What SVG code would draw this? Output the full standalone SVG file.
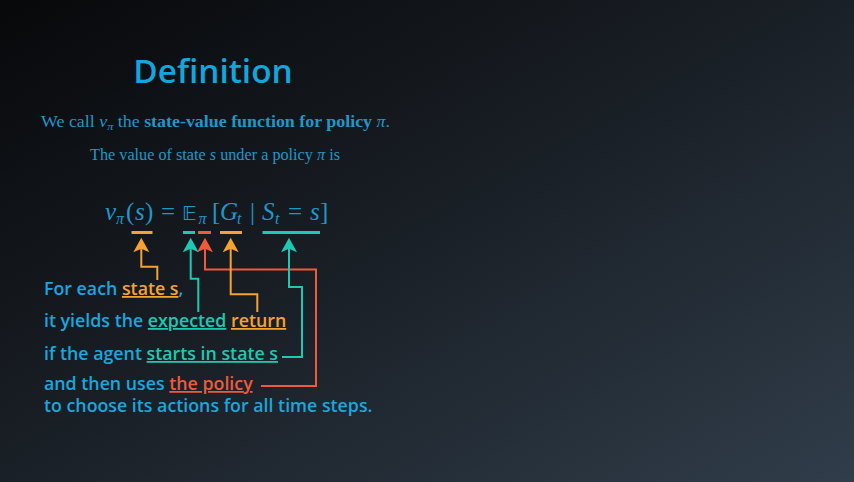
<svg xmlns="http://www.w3.org/2000/svg" width="854" height="482" viewBox="0 0 854 482">
  <defs>
    <linearGradient id="bg" x1="0" y1="0" x2="1" y2="1">
      <stop offset="0" stop-color="#07080a"/>
      <stop offset="0.5" stop-color="#1a2027"/>
      <stop offset="1" stop-color="#303d4a"/>
    </linearGradient>
    <!-- notched arrowhead, tip at the origin pointing up -->
    <path id="head" d="M0,0 L8,14.5 L0,11 L-8,14.5 Z"/>
    <style>
      .title { font-family: "Open Sans", "Noto Sans", sans-serif; font-weight: 600; font-size: 33.3px; fill: #13a6de; }
      .tex { font-family: "Liberation Serif", "DejaVu Serif", serif; fill: #1f98c8; }
      .it { font-style: italic; }
      .bf { font-weight: bold; }
      .body { font-family: "Open Sans", "Noto Sans", sans-serif; font-weight: 600; font-size: 17.8px; fill: #1ba6de; }
      .u { text-decoration: underline; }
      .org { fill: #f5a233; }
      .tea { fill: #1ec8b2; }
      .red { fill: #f05a3a; }
      .conn { fill: none; stroke-width: 2; }
      .so { stroke: #f5a233; }
      .st { stroke: #1ec8b2; }
      .sr { stroke: #f05a3a; }
    </style>
  </defs>

  <rect width="854" height="482" fill="url(#bg)"/>

  <g id="title">
    <text class="title" x="213" y="83" text-anchor="middle">Definition</text>
  </g>

  <g id="definition-text">
    <text class="tex" x="41" y="127" font-size="16" textLength="349" lengthAdjust="spacingAndGlyphs">We call <tspan class="it">v</tspan><tspan class="it" font-size="11" dy="3">π</tspan><tspan dy="-3"> the </tspan><tspan class="bf">state-value function for policy </tspan><tspan class="it">π</tspan>.</text>
    <text class="tex" x="90" y="160" font-size="16" textLength="250" lengthAdjust="spacingAndGlyphs">The value of state <tspan class="it">s</tspan> under a policy <tspan class="it">π</tspan> is</text>
  </g>

  <g id="equation" class="tex" font-size="25">
    <text x="105" y="220" class="it">v</text>
    <text x="116" y="224" class="it" font-size="16">π</text>
    <text x="126" y="220">(</text>
    <text x="135" y="220" class="it">s</text>
    <text x="145" y="220">)</text>
    <text x="168" y="220" text-anchor="middle">=</text>
    <text x="182" y="220" font-family="DejaVu Sans, sans-serif" font-size="20">𝔼</text>
    <text x="198.5" y="224" class="it" font-size="16">π</text>
    <text x="212" y="220">[</text>
    <text x="220" y="220" class="it">G</text>
    <text x="237" y="224" class="it" font-size="16">t</text>
    <text x="250" y="220">|</text>
    <text x="262" y="220" class="it">S</text>
    <text x="275" y="224" class="it" font-size="16">t</text>
    <text x="295" y="220" text-anchor="middle">=</text>
    <text x="310" y="220" class="it">s</text>
    <text x="320" y="220">]</text>
  </g>

  <g id="term-marks">
    <rect class="org" x="131.5" y="231" width="21" height="3"/>
    <rect class="tea" x="183" y="231" width="12" height="3"/>
    <rect class="red" x="198" y="231" width="13" height="3"/>
    <rect class="org" x="220" y="231" width="22" height="3"/>
    <rect class="tea" x="262.5" y="231" width="57.5" height="3"/>
  </g>

  <g id="connectors">
    <!-- state s -> v_pi(s) -->
    <polyline class="conn so" points="141.3,248 141.3,266.7 157.3,266.7 157.3,280"/>
    <use href="#head" x="141.3" y="237.7" class="org"/>
    <!-- expected -> E -->
    <polyline class="conn st" points="190.7,248 190.7,278.7 198.3,278.7 198.3,312"/>
    <use href="#head" x="190.7" y="237.7" class="tea"/>
    <!-- the policy -> pi -->
    <polyline class="conn sr" points="205,248 205,269.5 316,269.5 316,386 261,386"/>
    <use href="#head" x="205" y="237.7" class="red"/>
    <!-- return -> G_t -->
    <polyline class="conn so" points="230.7,248 230.7,294.3 257.3,294.3 257.3,312"/>
    <use href="#head" x="230.7" y="237.7" class="org"/>
    <!-- starts in state s -> S_t = s -->
    <polyline class="conn st" points="289,248 289,287 302,287 302,357 282,357"/>
    <use href="#head" x="289" y="237.7" class="tea"/>
  </g>

  <g id="explanation" class="body">
    <text x="44" y="295">For each <tspan class="u org">state s</tspan>,</text>
    <text x="44" y="327">it yields the <tspan class="u tea">expected</tspan> <tspan class="u org">return</tspan></text>
    <text x="44" y="360">if the agent <tspan class="u tea">starts in state s</tspan></text>
    <text x="44" y="390">and then uses <tspan class="u red">the policy</tspan></text>
    <text x="44" y="412">to choose its actions for all time steps.</text>
  </g>
</svg>
